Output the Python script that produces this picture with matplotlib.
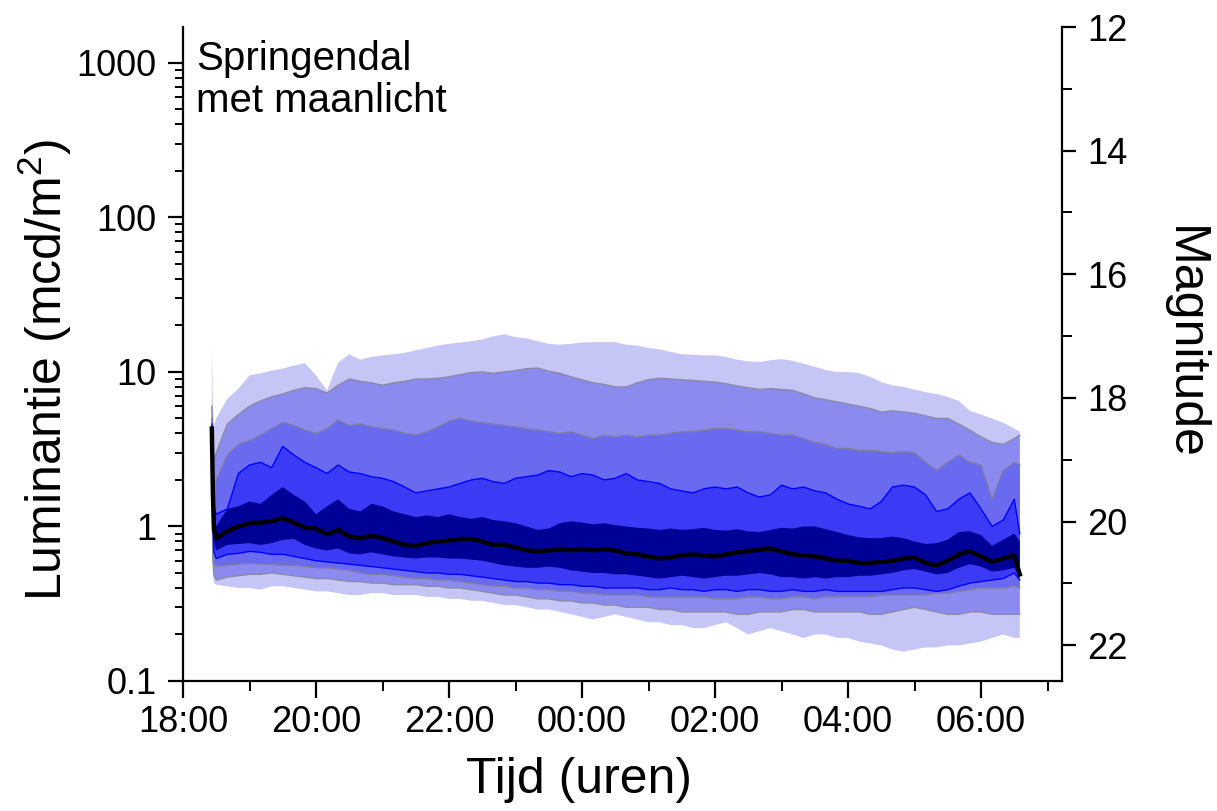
import matplotlib
matplotlib.use("Agg")
import matplotlib.pyplot as plt
from matplotlib.ticker import FixedLocator, LogLocator, NullFormatter, MultipleLocator, FuncFormatter
import numpy as np

plt.rcParams['font.family'] = ['Liberation Sans', 'DejaVu Sans']
plt.rcParams['mathtext.fontset'] = 'custom'
plt.rcParams['mathtext.rm'] = 'Liberation Sans'
plt.rcParams['mathtext.it'] = 'Liberation Sans'

# ---- data (luminance in mcd/m^2) ----
times = ["18:26", "18:27", "18:28",
         "18:30", "18:40", "18:50", "19:00", "19:10", "19:20", "19:30", "19:40", "19:50",
         "20:00", "20:10", "20:20", "20:30", "20:40", "20:50", "21:00", "21:10", "21:20",
         "21:30", "21:40", "21:50", "22:00", "22:10", "22:20", "22:30", "22:40", "22:50",
         "23:00", "23:10", "23:20", "23:30", "23:40", "23:50", "00:00", "00:10", "00:20",
         "00:30", "00:40", "00:50", "01:00", "01:10", "01:20", "01:30", "01:40", "01:50",
         "02:00", "02:10", "02:20", "02:30", "02:40", "02:50", "03:00", "03:10", "03:20",
         "03:30", "03:40", "03:50", "04:00", "04:10", "04:20", "04:30", "04:40", "04:50",
         "05:00", "05:10", "05:20", "05:30", "05:40", "05:50", "06:00", "06:10", "06:20",
         "06:30", "06:35"]

median = [4.3, 1.6, 0.95,
          0.84, 0.93, 1.0, 1.05, 1.06, 1.08, 1.13, 1.06, 0.98, 0.97, 0.89, 0.95, 0.86, 0.84, 0.87, 0.84, 0.80, 0.76, 0.75,
          0.78, 0.80, 0.81, 0.83, 0.83, 0.80, 0.76, 0.76, 0.73, 0.70, 0.69, 0.70, 0.71, 0.70, 0.71, 0.70, 0.71, 0.70,
          0.67, 0.66, 0.64, 0.62, 0.63, 0.65, 0.66, 0.65, 0.64, 0.66, 0.68, 0.69, 0.71, 0.72, 0.69, 0.66, 0.65, 0.64, 0.62, 0.60,
          0.60, 0.58, 0.58, 0.59, 0.60, 0.62, 0.63, 0.58, 0.56, 0.60, 0.66, 0.69, 0.64, 0.59, 0.62, 0.65,
          0.49]

e_upper = [4.45, 1.8, 1.1,
           1.0, 1.3, 1.35, 1.45, 1.4, 1.6, 1.8, 1.6, 1.45, 1.2, 1.35, 1.5, 1.3, 1.25, 1.4, 1.35, 1.25, 1.2, 1.15,
           1.18, 1.15, 1.2, 1.15, 1.12, 1.15, 1.1, 1.08, 1.05, 1.0, 0.95, 0.97, 1.05, 1.08, 1.06, 1.03, 1.05, 1.02,
           1.0, 0.98, 0.97, 0.95, 0.97, 0.95, 0.96, 0.98, 0.95, 0.94, 0.96, 0.93, 0.92, 0.95, 0.98, 0.97, 1.0, 1.0, 0.96, 0.92,
           0.88, 0.85, 0.84, 0.84, 0.86, 0.84, 0.8, 0.77, 0.78, 0.82, 0.92, 0.93, 0.88, 0.75, 0.82, 0.9,
           0.8]

e_lower = [4.0, 1.3, 0.8,
           0.7, 0.76, 0.77, 0.78, 0.76, 0.78, 0.82, 0.83, 0.76, 0.72, 0.70, 0.72, 0.67, 0.66, 0.68, 0.66, 0.64, 0.63, 0.62,
           0.63, 0.63, 0.62, 0.62, 0.61, 0.60, 0.58, 0.56, 0.55, 0.54, 0.54, 0.55, 0.54, 0.52, 0.51, 0.50, 0.50, 0.49,
           0.49, 0.48, 0.47, 0.46, 0.47, 0.48, 0.47, 0.46, 0.47, 0.48, 0.48, 0.49, 0.50, 0.49, 0.47, 0.47, 0.46, 0.47, 0.46, 0.47,
           0.47, 0.48, 0.48, 0.49, 0.50, 0.52, 0.53, 0.51, 0.49, 0.50, 0.54, 0.57, 0.55, 0.51, 0.52, 0.54,
           0.47]

d_upper = [4.6, 2.0, 1.3,
           1.2, 1.3, 2.2, 2.5, 2.6, 2.4, 3.3, 2.9, 2.6, 2.4, 2.2, 2.5, 2.25, 2.2, 2.1, 2.05, 1.95, 1.8, 1.65,
           1.7, 1.75, 1.8, 1.9, 2.0, 2.05, 1.95, 1.9, 2.05, 2.1, 2.15, 2.3, 2.25, 2.1, 2.2, 2.15, 2.0, 2.05,
           2.2, 2.0, 1.95, 1.9, 1.75, 1.7, 1.65, 1.75, 1.8, 1.75, 1.8, 1.65, 1.55, 1.6, 1.85, 1.75, 1.8, 1.7, 1.65, 1.5,
           1.4, 1.35, 1.3, 1.45, 1.8, 1.85, 1.8, 1.6, 1.25, 1.3, 1.5, 1.65, 1.3, 1.0, 1.1, 1.5,
           0.9]

d_lower = [3.5, 1.0, 0.68,
           0.62, 0.66, 0.67, 0.69, 0.68, 0.66, 0.66, 0.64, 0.62, 0.60, 0.59, 0.58, 0.57, 0.56, 0.55, 0.54, 0.53, 0.52, 0.51,
           0.50, 0.50, 0.49, 0.49, 0.48, 0.47, 0.46, 0.45, 0.44, 0.44, 0.43, 0.43, 0.42, 0.42, 0.41, 0.41, 0.40, 0.40,
           0.40, 0.40, 0.39, 0.39, 0.40, 0.39, 0.39, 0.38, 0.39, 0.39, 0.38, 0.39, 0.39, 0.38, 0.38, 0.39, 0.38, 0.38, 0.39, 0.38,
           0.38, 0.38, 0.38, 0.38, 0.39, 0.40, 0.40, 0.39, 0.38, 0.39, 0.41, 0.43, 0.44, 0.45, 0.46, 0.50,
           0.45]

c_upper = [5.0, 2.5, 1.8,
           2.0, 2.9, 3.4, 3.6, 3.9, 4.3, 4.7, 4.5, 4.2, 4.0, 4.3, 4.9, 4.5, 4.6, 4.4, 4.3, 4.2, 4.0, 3.9,
           4.1, 4.4, 4.8, 5.0, 4.8, 4.7, 4.6, 4.5, 4.4, 4.3, 4.2, 4.1, 4.0, 4.1, 3.9, 3.7, 3.9, 3.8,
           3.9, 3.8, 3.9, 3.9, 4.0, 4.1, 4.1, 4.2, 4.3, 4.3, 4.2, 4.1, 4.1, 4.0, 3.9, 3.9, 3.7, 3.5, 3.4, 3.2,
           3.2, 3.1, 3.1, 3.05, 3.0, 3.05, 3.0, 2.6, 2.3, 2.6, 2.9, 2.6, 2.5, 1.5, 2.3, 2.6,
           2.5]

c_lower = [2.8, 0.8, 0.58,
           0.55, 0.56, 0.57, 0.58, 0.57, 0.57, 0.56, 0.56, 0.55, 0.54, 0.54, 0.53, 0.52, 0.50, 0.49, 0.49, 0.48, 0.47, 0.46,
           0.46, 0.45, 0.45, 0.44, 0.43, 0.42, 0.41, 0.41, 0.40, 0.40, 0.39, 0.39, 0.38, 0.38, 0.37, 0.37, 0.36, 0.36,
           0.36, 0.36, 0.35, 0.35, 0.35, 0.35, 0.35, 0.35, 0.34, 0.34, 0.34, 0.35, 0.35, 0.34, 0.34, 0.35, 0.35, 0.34, 0.35, 0.35,
           0.35, 0.35, 0.35, 0.36, 0.36, 0.36, 0.36, 0.36, 0.37, 0.37, 0.38, 0.39, 0.40, 0.40, 0.40, 0.41,
           0.40]

b_upper = [6.0, 3.5, 2.6,
           3.0, 4.6, 5.3, 6.0, 6.5, 6.9, 7.2, 7.6, 7.9, 7.8, 7.3, 8.2, 9.0, 8.7, 8.5, 8.2, 8.5, 8.7, 9.0,
           9.0, 9.1, 9.3, 9.6, 9.9, 10.0, 9.8, 10.0, 10.2, 10.5, 10.6, 10.1, 9.8, 9.3, 8.9, 8.5, 8.3, 8.0,
           8.0, 8.5, 8.9, 9.1, 9.0, 8.9, 8.8, 8.7, 8.6, 8.4, 8.1, 7.9, 7.7, 7.8, 7.7, 7.6, 7.2, 6.8, 6.6, 6.4,
           6.2, 6.0, 5.8, 5.5, 5.6, 5.5, 5.4, 5.2, 5.0, 5.0, 4.6, 4.2, 3.8, 3.5, 3.4, 3.7,
           3.9]

b_lower = [2.0, 0.6, 0.48,
           0.45, 0.47, 0.48, 0.49, 0.49, 0.50, 0.49, 0.48, 0.47, 0.46, 0.46, 0.45, 0.44, 0.44, 0.43, 0.43, 0.42, 0.42, 0.42,
           0.41, 0.41, 0.40, 0.40, 0.39, 0.38, 0.37, 0.36, 0.36, 0.35, 0.34, 0.34, 0.33, 0.33, 0.32, 0.32, 0.31, 0.31,
           0.30, 0.30, 0.30, 0.29, 0.29, 0.28, 0.28, 0.28, 0.28, 0.28, 0.27, 0.27, 0.28, 0.28, 0.28, 0.29, 0.29, 0.28, 0.28, 0.28,
           0.28, 0.28, 0.27, 0.27, 0.28, 0.29, 0.30, 0.29, 0.28, 0.27, 0.27, 0.28, 0.28, 0.27, 0.27, 0.27,
           0.27]

a_upper = [15.0, 6.0, 4.5,
           5.0, 6.7, 7.8, 9.5, 9.8, 10.2, 10.5, 11.0, 11.4, 9.5, 7.6, 11.5, 13.0, 12.0, 12.5, 12.8, 13.0, 13.3, 13.8,
           14.3, 14.8, 15.2, 15.5, 15.8, 16.2, 17.0, 17.5, 16.8, 16.5, 15.8, 15.2, 15.0, 15.2, 15.5, 15.6, 15.6, 15.6,
           15.0, 14.8, 14.3, 14.0, 13.5, 13.0, 12.9, 12.8, 12.8, 12.5, 12.0, 11.7, 11.6, 11.9, 12.1, 11.8, 11.3, 10.8, 10.3, 10.0,
           10.0, 9.8, 9.3, 8.6, 8.2, 8.0, 7.7, 7.4, 7.2, 6.9, 6.5, 5.6, 5.3, 5.0, 4.7, 4.3,
           4.1]

a_lower = [1.2, 0.5, 0.43,
           0.42, 0.41, 0.40, 0.40, 0.39, 0.41, 0.41, 0.40, 0.39, 0.38, 0.38, 0.37, 0.36, 0.36, 0.37, 0.37, 0.36, 0.36, 0.36,
           0.35, 0.35, 0.34, 0.34, 0.33, 0.33, 0.32, 0.31, 0.31, 0.30, 0.29, 0.29, 0.28, 0.27, 0.26, 0.25, 0.26, 0.27,
           0.26, 0.25, 0.24, 0.24, 0.23, 0.23, 0.22, 0.22, 0.23, 0.24, 0.22, 0.20, 0.21, 0.22, 0.21, 0.20, 0.19, 0.20, 0.20, 0.19,
           0.19, 0.18, 0.175, 0.17, 0.16, 0.155, 0.16, 0.165, 0.165, 0.17, 0.17, 0.175, 0.18, 0.19, 0.20, 0.19,
           0.19]

x_tick_hours = [18, 20, 22, 24, 26, 28, 30]
y_ticks = [0.1, 1, 10, 100, 1000]
y_tick_labels = ["0.1", "1", "10", "100", "1000"]
mag_ticks = [12, 14, 16, 18, 20, 22]
MAG_ZERO = 20.08  # magnitude of 1 mcd/m^2


def to_hours(s):
    h, m = map(int, s.split(":"))
    v = h + m / 60.0
    return v + 24 if h < 12 else v


t = np.array([to_hours(s) for s in times])

fig = plt.figure(figsize=(12.17, 8.11), dpi=100)
ax = fig.add_axes([183 / 1217, 1 - 681 / 811, (1062 - 183) / 1217, (681 - 27) / 811])

bands = [
    (a_lower, a_upper, "#c6c6f6", None),
    (b_lower, b_upper, "#8b8bef", "#8a8aa8"),
    (c_lower, c_upper, "#6a6af0", "#7d7da8"),
    (d_lower, d_upper, "#3b3bf6", "#0000ff"),
    (e_lower, e_upper, "#000096", None),
]
for lo, hi, fc, ec in bands:
    ax.fill_between(t, lo, hi, facecolor=fc, edgecolor="none", linewidth=0, zorder=2)
    if ec is not None:
        ax.plot(t, hi, color=ec, lw=1.0, zorder=3)
        ax.plot(t, lo, color=ec, lw=1.0, zorder=3)
ax.plot(t, median, color="black", lw=3.2, zorder=4, solid_joinstyle="round")

ax.set_yscale("log")
y_top = 10 ** ((MAG_ZERO - 12) / 2.5)
ax.set_ylim(0.1, y_top)
ax.set_xlim(18.0, 18.0 + (1062 - 183) / 66.5)

ax.yaxis.set_major_locator(FixedLocator(y_ticks))
ax.set_yticklabels(y_tick_labels)
ax.yaxis.set_minor_locator(LogLocator(base=10, subs=np.arange(2, 10)))
ax.yaxis.set_minor_formatter(NullFormatter())

ax.xaxis.set_major_locator(FixedLocator(x_tick_hours))
ax.xaxis.set_major_formatter(FuncFormatter(lambda v, p: f"{int(round(v)) % 24:02d}:00"))
ax.xaxis.set_minor_locator(MultipleLocator(1))

for sp in ["top", "right"]:
    ax.spines[sp].set_visible(False)
for sp in ["left", "bottom"]:
    ax.spines[sp].set_linewidth(1.6)

ax.tick_params(axis="both", which="major", direction="out", width=1.6, labelsize=26)
ax.tick_params(axis="y", which="major", length=11, pad=8)
ax.tick_params(axis="y", which="minor", length=6, width=1.4)
ax.tick_params(axis="x", which="major", length=12, pad=5)
ax.tick_params(axis="x", which="minor", length=7, width=1.4)

ax.set_xlabel("Tijd (uren)", fontsize=36)
ax.xaxis.set_label_coords((579 - 183) / 879, (681 - 757) / 654)
ax.set_ylabel("Luminantie (mcd/m$^2$)", fontsize=36)
ax.yaxis.set_label_coords((74 - 183) / 879, (681 - 370) / 654)

ax2 = ax.twinx()
ax2.set_ylim(MAG_ZERO - 2.5 * np.log10(0.1), 12)
ax2.yaxis.set_major_locator(FixedLocator(mag_ticks))
ax2.yaxis.set_minor_locator(MultipleLocator(1))
for sp in ["top", "left", "bottom"]:
    ax2.spines[sp].set_visible(False)
ax2.spines["right"].set_linewidth(1.6)
ax2.tick_params(axis="y", which="major", direction="out", length=10, width=1.6, labelsize=26, pad=8)
ax2.tick_params(axis="y", which="minor", direction="out", length=7, width=1.4)
ax2.set_ylabel("Magnitude", fontsize=36, rotation=-90, va="center")
ax2.yaxis.set_label_coords((1184 - 183) / 879, (681 - 343) / 654)

ax.text((196 - 183) / 879, (681 - 40) / 654, "Springendal\nmet maanlicht", transform=ax.transAxes,
        fontsize=29, va="top", ha="left", linespacing=1.12)

fig.savefig("out.png", dpi=100)
